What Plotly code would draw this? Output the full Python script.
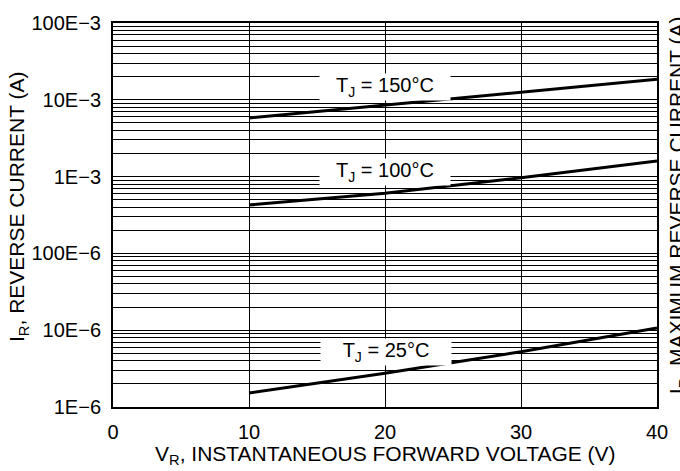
import plotly.graph_objects as go

# Data
vr = [10, 20, 30, 40]
ir_150 = [5.8e-3, 8.56e-3, 1.24e-2, 1.85e-2]
ir_100 = [4.27e-4, 6.06e-4, 9.68e-4, 1.6e-3]
ir_25 = [1.52e-6, 2.75e-6, 5.25e-6, 1.07e-5]

y_tickvals = [1e-6, 1e-5, 1e-4, 1e-3, 1e-2, 1e-1]
y_ticktext = ["1E\u22126", "10E\u22126", "100E\u22126", "1E\u22123", "10E\u22123", "100E\u22123"]
x_tickvals = [0, 10, 20, 30, 40]

labels = ["T<sub>J</sub> = 150\u00b0C", "T<sub>J</sub> = 100\u00b0C", "T<sub>J</sub> = 25\u00b0C"]
label_x = [20, 20, 20.1]
label_y = [-1.83, -2.936, -5.28]

minor_vals = [m * 10 ** e for e in range(-6, -1) for m in range(2, 10)]

FONT = "Liberation Sans, Arial, sans-serif"
FS = 20
FT = 21
fig = go.Figure()
for ys in (ir_150, ir_100, ir_25):
    fig.add_trace(go.Scatter(x=vr, y=ys, mode="lines",
                             line=dict(color="black", width=3), showlegend=False))

for t, lx, ly in zip(labels, label_x, label_y):
    fig.add_annotation(x=lx, y=ly, xref="x", yref="y", text=t, showarrow=False,
                       bgcolor="white", width=128, height=24,
                       font=dict(size=FS, color="black", family=FONT))

fig.add_annotation(x=-0.201, y=0.52, xref="paper", yref="paper",
                   text="I<sub>R</sub>, REVERSE CURRENT (A)", showarrow=False,
                   textangle=-90, font=dict(size=FT, color="black", family=FONT))
fig.add_annotation(x=1.0125, y=0.525, xref="paper", yref="paper", xanchor="left",
                   text="I<sub>R</sub>, MAXIMUM REVERSE CURRENT (A)", showarrow=False,
                   textangle=-90, font=dict(size=FT, color="black", family=FONT))
fig.add_annotation(x=0.5, y=-0.125, xref="paper", yref="paper", yanchor="middle",
                   text="V<sub>R</sub>, INSTANTANEOUS FORWARD VOLTAGE (V)", showarrow=False,
                   font=dict(size=FT, color="black", family=FONT))

fig.update_layout(
    width=680, height=471,
    margin=dict(l=113, r=19, t=23, b=64),
    paper_bgcolor="white", plot_bgcolor="white",
    font=dict(family=FONT, size=FS, color="black"),
    xaxis=dict(range=[0, 40], tickvals=x_tickvals, showgrid=True, gridcolor="black",
               gridwidth=1, showline=True, linecolor="black", linewidth=2, mirror=True,
               zeroline=False, ticks="outside", ticklen=6, tickcolor="rgba(0,0,0,0)"),
    yaxis=dict(type="log", range=[-6, -1], tickvals=y_tickvals, ticktext=y_ticktext,
               showgrid=True, gridcolor="black", gridwidth=1, showline=True,
               linecolor="black", linewidth=2, mirror=True, zeroline=False,
               ticks="outside", ticklen=6, tickcolor="rgba(0,0,0,0)",
               minor=dict(tickvals=minor_vals, showgrid=True, gridcolor="black",
                          gridwidth=1, ticks="")),
)

fig.write_html("out.html")
